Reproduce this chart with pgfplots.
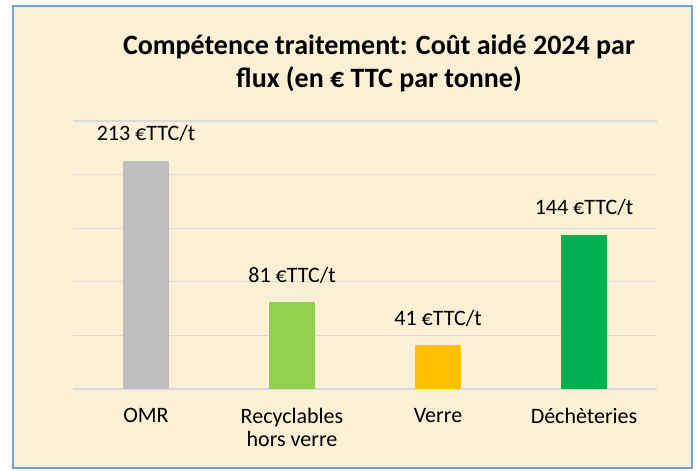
\documentclass[border=0pt]{standalone}
\usepackage{fontspec}
\setmainfont{Carlito}
\usepackage{pgfplots}
\pgfplotsset{compat=1.18}
\definecolor{bgpaper}{HTML}{FBF0D6}
\definecolor{frameblue}{HTML}{6FA3D8}
\definecolor{gridgray}{HTML}{D9D9D9}
\definecolor{cOMR}{HTML}{BFBFBF}
\definecolor{cRec}{HTML}{92D050}
\definecolor{cVer}{HTML}{FFC000}
\definecolor{cDec}{HTML}{00B050}
\begin{document}
\begin{tikzpicture}[x=0.5pt,y=0.5pt]
\path[use as bounding box] (0,0) rectangle (699,470);
\fill[white] (0,0) rectangle (699,470);
\filldraw[fill=bgpaper,draw=frameblue,line width=1pt] (13,2) rectangle (692,464);
\node[align=center,font=\fontsize{14}{16.5}\selectfont\bfseries] at (379,406.5)
  {Compétence traitement: Coût aidé 2024 par\\flux (en € TTC par tonne)};
\begin{axis}[
  at={(36.5pt,40.5pt)}, anchor=south west,
  scale only axis, width=292pt, height=134pt,
  xmin=-0.5, xmax=3.5, ymin=0, ymax=250,
  ytick={0,50,...,250}, yticklabels={},
  ymajorgrids, grid style={gridgray,line width=0.6pt},
  axis line style={draw=none},
  major tick length=0pt,
  xtick={0,1,2,3},
  xticklabels={OMR,{Recyclables\\hors verre},Verre,Déchèteries},
  xticklabel style={align=center,font=\fontsize{11}{11.5}\selectfont,yshift=-6pt},
  /pgf/number format/assume math mode=true,
  ybar, bar width=23pt, bar shift=0pt,
  nodes near coords={\pgfmathprintnumber{\pgfplotspointmeta}~€TTC/t},
  every node near coord/.append style={font=\fontsize{11}{12}\selectfont,anchor=center,yshift=13.5pt},
  clip=false,
]
\addplot[fill=cOMR,draw=none] coordinates {(0,213)};
\addplot[fill=cRec,draw=none] coordinates {(1,81)};
\addplot[fill=cVer,draw=none] coordinates {(2,41)};
\addplot[fill=cDec,draw=none] coordinates {(3,144)};
\end{axis}
\end{tikzpicture}
\end{document}
